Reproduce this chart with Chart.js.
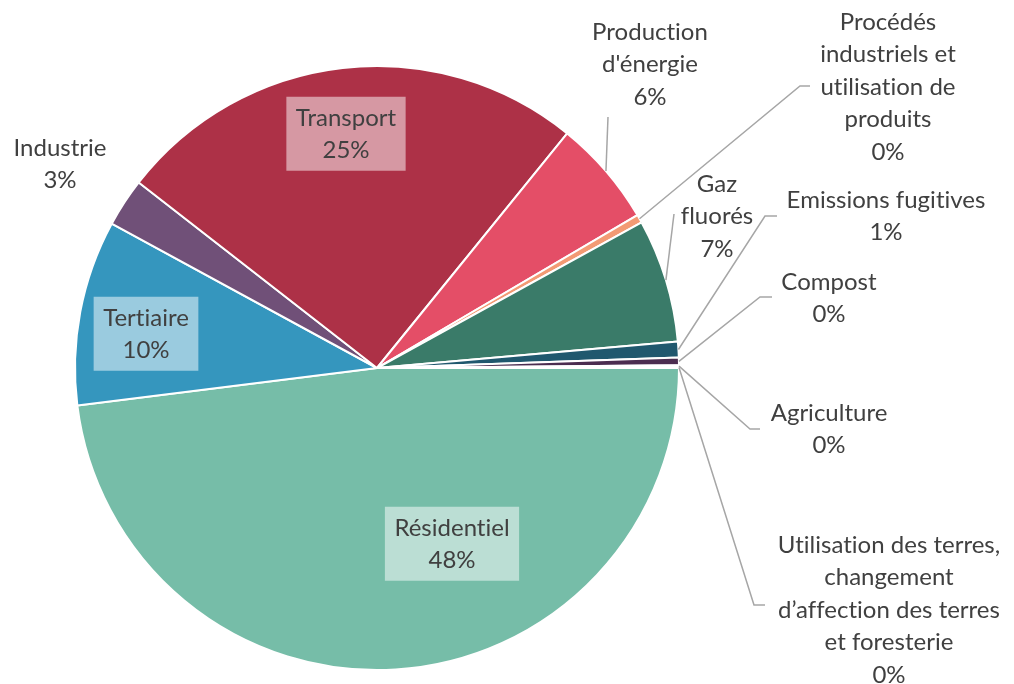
<!DOCTYPE html>
<html lang="fr">
<head>
<meta charset="utf-8">
<title>Répartition des émissions</title>
<script src="https://cdn.jsdelivr.net/npm/chart.js@4.4.1/dist/chart.umd.min.js"></script>
<style>
  html, body { margin: 0; padding: 0; background: #ffffff; }
  #wrap { width: 1014px; height: 684px; position: relative; }
</style>
</head>
<body>
<div id="wrap"><canvas id="pie-chart" width="1014" height="684"></canvas></div>
<script>
// Categories in drawing order (clockwise from 3 o'clock)
const categories = [
    'Résidentiel', 'Tertiaire', 'Industrie', 'Transport', "Production d'énergie",
    'Procédés industriels et utilisation de produits', 'Gaz fluorés',
    'Emissions fugitives', 'Compost', 'Agriculture',
    'Utilisation des terres, changement d’affection des terres et foresterie'
];

// How each category label is wrapped in the picture
const labelLines = [
    ['Résidentiel'], ['Tertiaire'], ['Industrie'], ['Transport'], ['Production', "d'énergie"],
    ['Procédés', 'industriels et', 'utilisation de', 'produits'], ['Gaz', 'fluorés'],
    ['Emissions fugitives'], ['Compost'], ['Agriculture'],
    ['Utilisation des terres,', 'changement', 'd’affection des terres', 'et foresterie']
];

// Share of emissions (%)
const shares = [48.0, 9.9, 2.6, 25.3, 5.7, 0.45, 6.6, 0.85, 0.4, 0.1, 0.05];

const sliceColors = [
    '#76BDA8', '#3596BE', '#705078', '#AD3147', '#E44E67',
    '#F39A74', '#3A7B69', '#20586E', '#4B2D50', '#8A6D3B', '#5B8C3A'
];

// Label placement: inside labels get a light box, outside ones a leader line
// pos = centre of first text line; leader = points after the arc edge
const labelLayout = [
    { inside: true, pos: [452, 528] },
    { inside: true, pos: [146, 318] },
    { pos: [60, 148] },
    { inside: true, pos: [346, 118] },
    { pos: [650, 32], leader: [[608, 117]] },
    { pos: [888, 22], leader: [[800, 86], [810, 86]] },
    { pos: [717, 184], leader: [[674, 214]] },
    { pos: [886, 200], leader: [[765, 216], [777, 216]] },
    { pos: [829, 282], leader: [[760, 297], [772, 297]] },
    { pos: [829, 413], leader: [[750, 429], [760, 429]] },
    { pos: [889, 545], leader: [[754, 605], [765, 605]] }
];

const FONT = '24px Lato, "Open Sans", sans-serif';
const LINE_H = 32.5;
const TEXT_COLOR = '#404040';
const LEADER_COLOR = '#A6A6A6';

function lighten(hex, t) {
    const n = parseInt(hex.slice(1), 16);
    const r = (n >> 16) & 255, g = (n >> 8) & 255, b = n & 255;
    const mix = c => Math.round(c + (255 - c) * t);
    return `rgb(${mix(r)}, ${mix(g)}, ${mix(b)})`;
}

const pieLabels = {
    id: 'pieLabels',
    afterDatasetsDraw(chart) {
        const ctx = chart.ctx;
        const meta = chart.getDatasetMeta(0);
        const data = chart.data.datasets[0].data;
        const total = data.reduce((a, b) => a + b, 0);

        ctx.save();
        ctx.font = FONT;
        ctx.textAlign = 'center';
        ctx.textBaseline = 'middle';
        // tiny spacing keeps Lato from joining "ti" into a ligature
        if ('letterSpacing' in ctx) ctx.letterSpacing = '0.01px';

        meta.data.forEach((arc, i) => {
            const layout = labelLayout[i];
            const lines = labelLines[i].concat([Math.round(data[i] / total * 100) + '%']);
            const [cx, cy] = layout.pos;

            // leader line from arc edge
            if (layout.leader) {
                const p = arc.getProps(['x', 'y', 'startAngle', 'endAngle', 'outerRadius'], true);
                const mid = (p.startAngle + p.endAngle) / 2;
                ctx.beginPath();
                ctx.moveTo(p.x + Math.cos(mid) * p.outerRadius, p.y + Math.sin(mid) * p.outerRadius);
                layout.leader.forEach(pt => ctx.lineTo(pt[0], pt[1]));
                ctx.strokeStyle = LEADER_COLOR;
                ctx.lineWidth = 1.5;
                ctx.stroke();
            }

            if (layout.inside) {
                const w = Math.max(...lines.map(l => ctx.measureText(l).width)) + 19;
                const h = lines.length * LINE_H + 9;
                ctx.fillStyle = lighten(sliceColors[i], 0.5);
                ctx.fillRect(cx - w / 2, cy - LINE_H / 2 - 5, w, h);
            }

            ctx.fillStyle = TEXT_COLOR;
            lines.forEach((l, k) => ctx.fillText(l, cx, cy + k * LINE_H));
        });
        ctx.restore();
    }
};

new Chart(document.getElementById('pie-chart'), {
    type: 'pie',
    data: {
        labels: categories,
        datasets: [{
            data: shares,
            backgroundColor: sliceColors,
            borderColor: '#ffffff',
            borderWidth: 2
        }]
    },
    options: {
        responsive: false,
        animation: false,
        rotation: 90,
        layout: { padding: { left: 74, right: 334, top: 65, bottom: 13 } },
        plugins: {
            legend: { display: false },
            tooltip: { enabled: false }
        }
    },
    plugins: [pieLabels]
});
</script>
</body>
</html>
